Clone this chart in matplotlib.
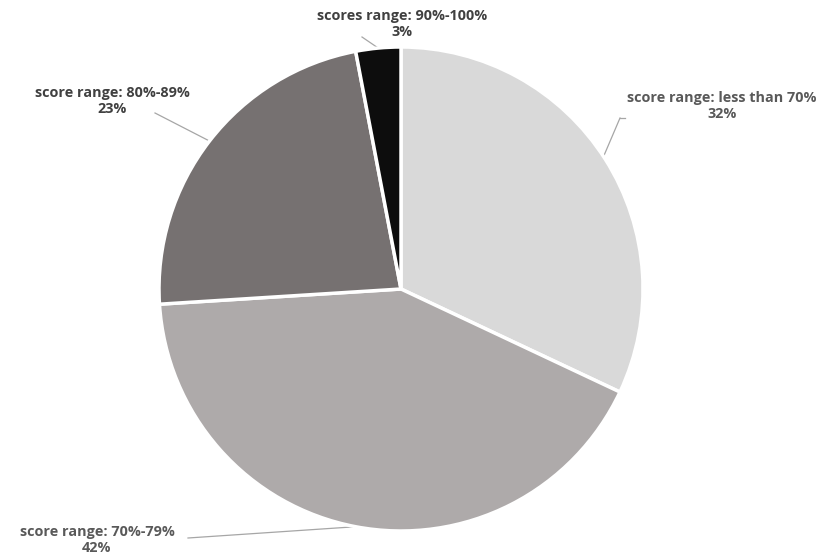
import numpy as np
import matplotlib
matplotlib.use("Agg")
import matplotlib.pyplot as plt

labels = ["score range: less than 70%", "score range: 70%-79%",
          "score range: 80%-89%", "scores range: 90%-100%"]
values = [32, 42, 23, 3]
colors = ["#d9d9d9", "#aeaaaa", "#767171", "#0d0d0d"]
text_colors = ["#595959", "#595959", "#404040", "#404040"]

# pixel layout of the reference
W, H = 821, 554
cx, cy, R = 401, 289, 242


def to_data(px, py):
    return (px - cx) / R, (cy - py) / R


fig = plt.figure(figsize=(W / 100, H / 100), dpi=100)
ax = fig.add_axes([0, 0, 1, 1])
wedges, _ = ax.pie(values, colors=colors, startangle=90, counterclock=False,
                   radius=1.0, wedgeprops=dict(edgecolor="white", linewidth=2.5))
x0, _ = to_data(0, 0)
x1, _ = to_data(W, 0)
_, y0 = to_data(0, H)
_, y1 = to_data(0, 0)
ax.set_xlim(x0, x1)
ax.set_ylim(y0, y1)
ax.set_aspect("auto")
ax.axis("off")

# label text centres and the elbow point of each leader line (pixels)
text_pos = [(722, 106), (97, 540), (112, 101), (402, 24)]
elbow_pos = [(620, 118), (188, 538), (155, 113), (362, 37)]
edge_r = [0.98, 1.0, 0.99, 1.0]

for i, w in enumerate(wedges):
    ang = np.deg2rad((w.theta1 + w.theta2) / 2)
    ex, ey = edge_r[i] * np.cos(ang), edge_r[i] * np.sin(ang)
    bx, by = to_data(*elbow_pos[i])
    ax.plot([ex, bx], [ey, by], color="#a6a6a6", lw=0.9, zorder=0.5)
    if i == 0:
        ax.plot([bx, bx + 5 / R], [by, by], color="#a6a6a6", lw=0.9)
    tx, ty = to_data(*text_pos[i])
    ax.text(tx, ty, f"{labels[i]}\n{values[i]}%", ha="center", va="center",
            fontsize=10.4, fontweight="bold", family="Open Sans",
            color=text_colors[i], linespacing=1.2)

fig.savefig("out.png", dpi=100, facecolor="white")
